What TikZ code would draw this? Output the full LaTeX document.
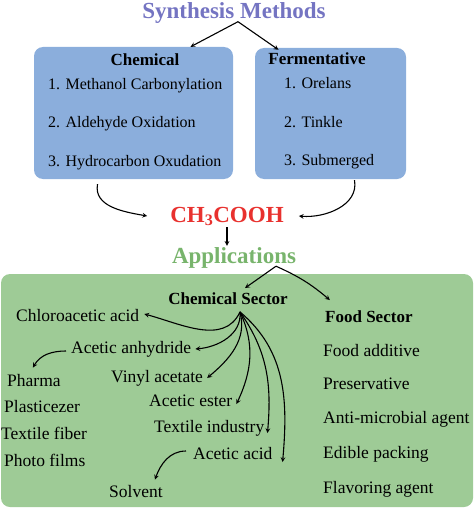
\documentclass[tikz,border=0pt]{standalone}
\usepackage{fontspec}
\setmainfont{Liberation Serif}
\usetikzlibrary{arrows, positioning}
\definecolor{synthblue}{HTML}{7474C2}
\definecolor{boxblue}{HTML}{8BAEDC}
\definecolor{acidred}{HTML}{E8312E}
\definecolor{appgreen}{HTML}{78B46C}
\definecolor{areagreen}{HTML}{9ECB96}
\tikzstyle{title} = [font=\bfseries\fontsize{23}{26}\selectfont, text height=16pt, text depth=4pt, inner sep=1pt]
\tikzstyle{method} = [rectangle, rounded corners=9pt, fill=boxblue, inner sep=0pt]
\tikzstyle{head} = [font=\bfseries\fontsize{17}{20}\selectfont, text height=12pt, text depth=3.5pt, inner sep=1pt]
\tikzstyle{item} = [anchor=west, font=\fontsize{16}{19}\selectfont, text height=11.5pt, text depth=3.5pt, inner sep=1pt]
\tikzstyle{use} = [anchor=west, font=\fontsize{17.5}{21}\selectfont, text height=12.5pt, text depth=4pt, inner sep=1pt]
\tikzstyle{edge} = [line width=1.1pt, ->, >=stealth]

\begin{document}
\begin{tikzpicture}[x=1pt, y=-1pt]
\useasboundingbox (0,0) rectangle (474,508);

% synthesis part
\node (synth) [title, text=synthblue] at (234,12.5) {Synthesis Methods};
\node (chembox) [method, minimum width=199pt, minimum height=132pt] at (133.5,113) {};
\node (fermbox) [method, minimum width=151pt, minimum height=131pt] at (330.5,113.5) {};

\node (chem) [head] at (145,61) {Chemical};
\node (c1) [item] at (47,86) {1. Methanol Carbonylation};
\node (c2) [item, below=38pt of c1.west, anchor=west] {2. Aldehyde Oxidation};
\node (c3) [item, below=38pt of c2.west, anchor=west] {3. Hydrocarbon Oxudation};

\node (ferm) [head] at (317,60) {Fermentative};
\node (f1) [item] at (283,85) {1. Orelans};
\node (f2) [item, below=38pt of f1.west, anchor=west] {2. Tinkle};
\node (f3) [item, below=38pt of f2.west, anchor=west] {3. Submerged};

\node (acid) [title, text=acidred] at (227,216) {CH\textsubscript{3}COOH};
\node (apps) [title, text=appgreen] at (234,257) {Applications};

\draw [edge] ([xshift=4pt,yshift=2pt]synth.south) -- ([xshift=57pt]chembox.north);
\draw [edge] ([xshift=4pt,yshift=2pt]synth.south) -- ([xshift=-52pt,yshift=-2pt]fermbox.north);
\draw [edge] ([xshift=-36pt,yshift=-5pt]chembox.south) to[out=-100, in=170] ([xshift=-22pt]acid.west);
\draw [edge] ([xshift=24pt,yshift=-1pt]fermbox.south) to[out=-80, in=-5] ([xshift=14pt]acid.east);
\draw [edge] (acid.south) -- (acid.south |- apps.north);

% applications part
\fill [areagreen, rounded corners=9pt] (1,274) rectangle (473,507);

\node (chemsec) [head] at (228,300) {Chemical Sector};
\node (foodsec) [head, anchor=west] at (324,318) {Food Sector};
\coordinate (hub) at ([xshift=12pt,yshift=-3pt]chemsec.south);

\node (chloro) [use] at (15,317) {Chloroacetic acid};
\node (anhyd) [use] at (70,349) {Acetic anhydride};
\node (vinyl) [use] at (110,378) {Vinyl acetate};
\node (ester) [use] at (148,402) {Acetic ester};
\node (textind) [use] at (153,428) {Textile industry};
\node (aacid) [use] at (192,455) {Acetic acid};
\node (solvent) [use] at (108,493) {Solvent};

\node (pharma) [use] at (6,382) {Pharma};
\node (plast) [use, below=26.7pt of pharma.west, anchor=west, xshift=-3pt] {Plasticezer};
\node (tfiber) [use, below=26.7pt of plast.west, anchor=west, xshift=-3pt] {Textile fiber};
\node (photo) [use, below=26.7pt of tfiber.west, anchor=west, xshift=3pt] {Photo films};

\node (fadd) [use] at (322,352) {Food additive};
\node (pres) [use, below=33pt of fadd.west, anchor=west] {Preservative};
\node (anti) [use, below=34pt of pres.west, anchor=west] {Anti-microbial agent};
\node (edible) [use, below=35.5pt of anti.west, anchor=west] {Edible packing};
\node (flav) [use, below=35pt of edible.west, anchor=west] {Flavoring agent};

\draw [edge] ([xshift=42pt,yshift=2pt]apps.south) -- ([xshift=17pt,yshift=3pt]chemsec.north);
\draw [edge] ([xshift=42pt,yshift=2pt]apps.south) to[bend left=8] ([xshift=-39pt,yshift=9pt]foodsec.north);

\draw [edge] (hub) to[out=-115, in=-15] ([xshift=4pt,yshift=3pt]chloro.east);
\draw [edge] (hub) to[out=-85, in=5] ([xshift=3pt]anhyd.east);
\draw [edge] (hub) to[out=-75, in=40] ([xshift=3pt]vinyl.east);
\draw [edge] (hub) to[out=-65, in=65] ([xshift=3pt,yshift=-2pt]ester.east);
\draw [edge] (hub) to[out=-55, in=85] ([xshift=2pt,yshift=-5pt]textind.east);
\draw [edge] (hub) to[out=-40, in=85] ([xshift=9pt,yshift=-7pt]aacid.east);

\draw [edge] ([xshift=-4pt,yshift=-2pt]anhyd.west) to[out=180, in=60] ([xshift=-1pt,yshift=5pt]pharma.north);
\draw [edge] ([xshift=-6pt,yshift=4pt]aacid.west) to[out=180, in=70] ([xshift=19pt,yshift=4pt]solvent.north);

\end{tikzpicture}
\end{document}
